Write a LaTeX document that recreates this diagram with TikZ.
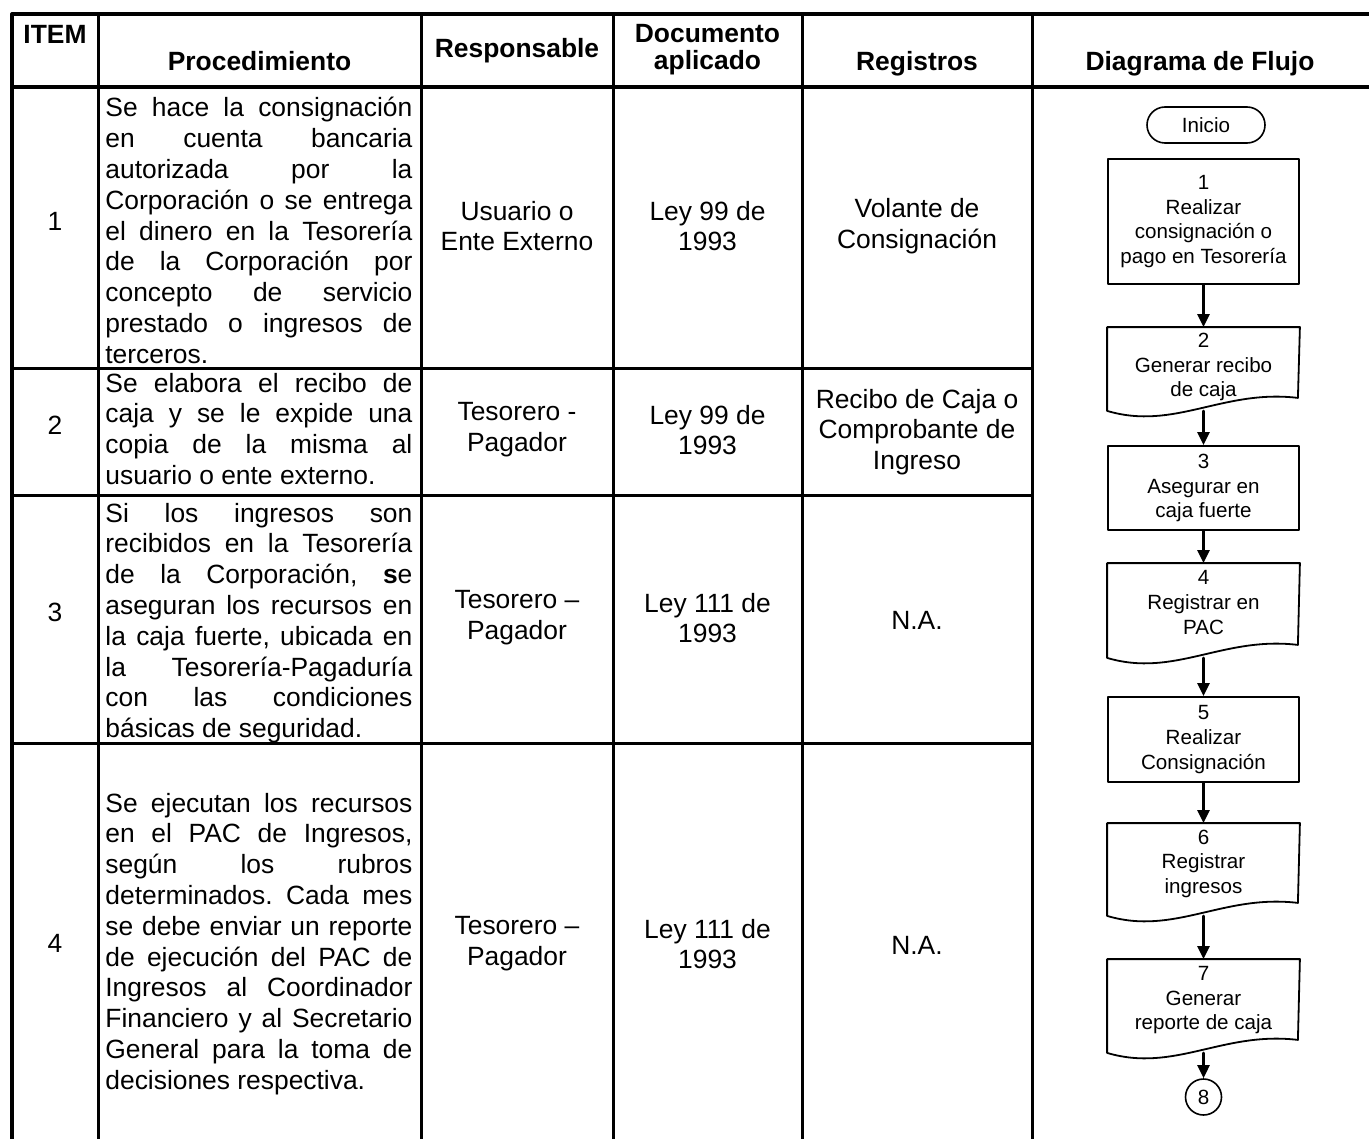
\documentclass[tikz,border=0pt]{standalone}
\usepackage{fontspec}
\setmainfont{Liberation Sans}
\usetikzlibrary{arrows.meta, calc}
\frenchspacing

\newcommand{\cuerpo}{\fontsize{13.2}{15.4}\selectfont}
\newcommand{\flujo}{\fontsize{10.3}{12.3}\selectfont}
\def\anchoproc{153.5pt}
% linea justificada a todo el ancho de la celda
\newcommand{\jlinea}[1]{\makebox[\anchoproc][s]{#1}\\}
% contorno de documento (borde inferior ondulado)
\newcommand{\docborde}[1]{%
  \draw[line width=0.9pt] (#1.south west) -- (#1.north west) -- (#1.north east)
    -- ($(#1.south east)+(-2,-13)$)
    .. controls ($(#1.south west)!0.6!(#1.south east)+(0,-22)$) and ($(#1.south west)!0.35!(#1.south east)+(0,20)$) .. (#1.south west) -- cycle;}

\begin{document}
\begin{tikzpicture}[x=0.5pt, y=-0.5pt, font=\cuerpo, line join=round, line cap=round, >={Triangle[width=6pt,length=6.5pt]},
  titulo/.style={font=\cuerpo\bfseries},
  proc/.style={anchor=base west, text width=\anchoproc, align=justify, inner sep=0pt},
  celda/.style={align=center, inner sep=0pt},
  caja/.style={draw, line width=0.9pt, minimum width=95.5pt, align=center, inner sep=2pt, font=\flujo},
  documento/.style={caja, draw=none},
  terminal/.style={draw, line width=0.8pt, rounded corners=9pt, minimum width=59pt, minimum height=18pt, inner sep=0pt, font=\flujo},
  conector/.style={draw, circle, line width=0.8pt, minimum size=18pt, inner sep=0pt, font=\flujo},
  flecha/.style={->, line width=1.2pt}]
\useasboundingbox (0,0) rectangle (1369,1139);
% columnas y filas (en px de la imagen)
\def\xizq{12} \def\xa{98} \def\xb{421} \def\xc{613} \def\xd{802} \def\xe{1032} \def\xder{1369}
\def\ytop{14} \def\yhead{87} \def\yuno{368} \def\ydos{495} \def\ytres{743} \def\yfin{1139}

% --- Lineas de la tabla ---
\draw[line width=1.6pt] (\xder,\ytop) -- (\xizq,\ytop) -- (\xizq,\yfin);
\draw[line width=1.6pt] (\xizq,\yhead) -- (\xder,\yhead);
\foreach \y in {\yuno,\ydos,\ytres} \draw[line width=1.5pt] (\xizq,\y) -- (\xe,\y);
\foreach \x in {\xa,\xb,\xc,\xd,\xe} \draw[line width=1.5pt] (\x,\ytop) -- (\x,\yfin);

% --- Encabezados ---
\node[titulo, anchor=base] (hitem) at (55,44) {ITEM};
\node[titulo, anchor=base] (hproc) at (259.5,71) {Procedimiento};
\node[titulo, anchor=base] (hresp) at (517,58) {Responsable};
\node[titulo, celda, font=\bfseries\fontsize{13.2}{13.4}\selectfont] (hdoc) at (707.5,50) {Documento\\aplicado};
\node[titulo, anchor=base] (hreg) at (917,71) {Registros};
\node[titulo, anchor=base] (hflujo) at (1200,71) {Diagrama de Flujo};

% --- Fila 1 ---
\node (item1) at (55,221) {1};
\node[proc] (proc1) at (105,117) {\jlinea{Se hace la consignación}\jlinea{en cuenta bancaria}\jlinea{autorizada por la}\jlinea{Corporación o se entrega}\jlinea{el dinero en la Tesorería}\jlinea{de la Corporación por}\jlinea{concepto de servicio}\jlinea{prestado o ingresos de}terceros.};
\node[celda] (resp1) at (517,226) {Usuario o\\Ente Externo};
\node[celda] (doc1) at (707.5,226) {Ley 99 de\\1993};
\node[celda] (reg1) at (917,226) {Volante de\\Consignación};

% --- Fila 2 ---
\node (item2) at (55,425) {2};
\node[proc] (proc2) at (105,392) {\jlinea{Se elabora el recibo de}\jlinea{caja y se le expide una}\jlinea{copia de la misma al}usuario o ente externo.};
\node[celda] (resp2) at (517,430) {Tesorero -\\Pagador};
\node[celda] (doc2) at (707.5,430) {Ley 99 de\\1993};
\node[celda] (reg2) at (917,432) {Recibo de Caja o\\Comprobante de\\Ingreso};

% --- Fila 3 ---
\node (item3) at (55,612) {3};
\node[proc] (proc3) at (105,522) {\jlinea{Si los ingresos son}\jlinea{recibidos en la Tesorería}\jlinea{de la Corporación, \textbf{s}e}\jlinea{aseguran los recursos en}\jlinea{la caja fuerte, ubicada en}\jlinea{la Tesorería-Pagaduría}\jlinea{con las condiciones}básicas de seguridad.};
\node[celda] (resp3) at (517,618) {Tesorero –\\Pagador};
\node[celda] (doc3) at (707.5,618) {Ley 111 de\\1993};
\node[celda] (reg3) at (917,620) {N.A.};

% --- Fila 4 ---
\node (item4) at (55,943) {4};
\node[proc] (proc4) at (105,812) {\jlinea{Se ejecutan los recursos}\jlinea{en el PAC de Ingresos,}\jlinea{según los rubros}\jlinea{determinados. Cada mes}\jlinea{se debe enviar un reporte}\jlinea{de ejecución del PAC de}\jlinea{Ingresos al Coordinador}\jlinea{Financiero y al Secretario}\jlinea{General para la toma de}decisiones respectiva.};
\node[celda] (resp4) at (517,944) {Tesorero –\\Pagador};
\node[celda] (doc4) at (707.5,944) {Ley 111 de\\1993};
\node[celda] (reg4) at (917,945) {N.A.};

% --- Diagrama de flujo ---
\node[terminal] (inicio) at (1206,125) {Inicio};
\node[caja, minimum height=62.5pt] (p1) at (1203.5,221.5) {1\\Realizar\\consignación o\\pago en Tesorería};
\node[documento, minimum height=41pt, text depth=4pt] (p2) at (1203.5,369) {2\\Generar recibo\\de caja};
\node[caja, minimum height=42pt] (p3) at (1203.5,488) {3\\Asegurar en\\caja fuerte};
\node[documento, minimum height=46.5pt, text depth=8pt] (p4) at (1203.5,610.5) {4\\Registrar en\\PAC};
\node[caja, minimum height=42.5pt] (p5) at (1203.5,739.5) {5\\Realizar\\Consignación};
\node[documento, minimum height=45.5pt, text depth=8pt] (p6) at (1203.5,869.5) {6\\Registrar\\ingresos};
\node[documento, minimum height=46pt, text depth=8pt] (p7) at (1203.5,1006) {7\\Generar\\reporte de caja};
\node[conector] (c8) at (1203.5,1097) {8};
\foreach \n in {p2,p4,p6,p7} \docborde{\n};
\foreach \a/\b in {p1/p2,p2/p3,p3/p4,p4/p5,p5/p6,p6/p7,p7/c8} \draw[flecha] (\a.south) -- (\b.north);
\end{tikzpicture}
\end{document}
